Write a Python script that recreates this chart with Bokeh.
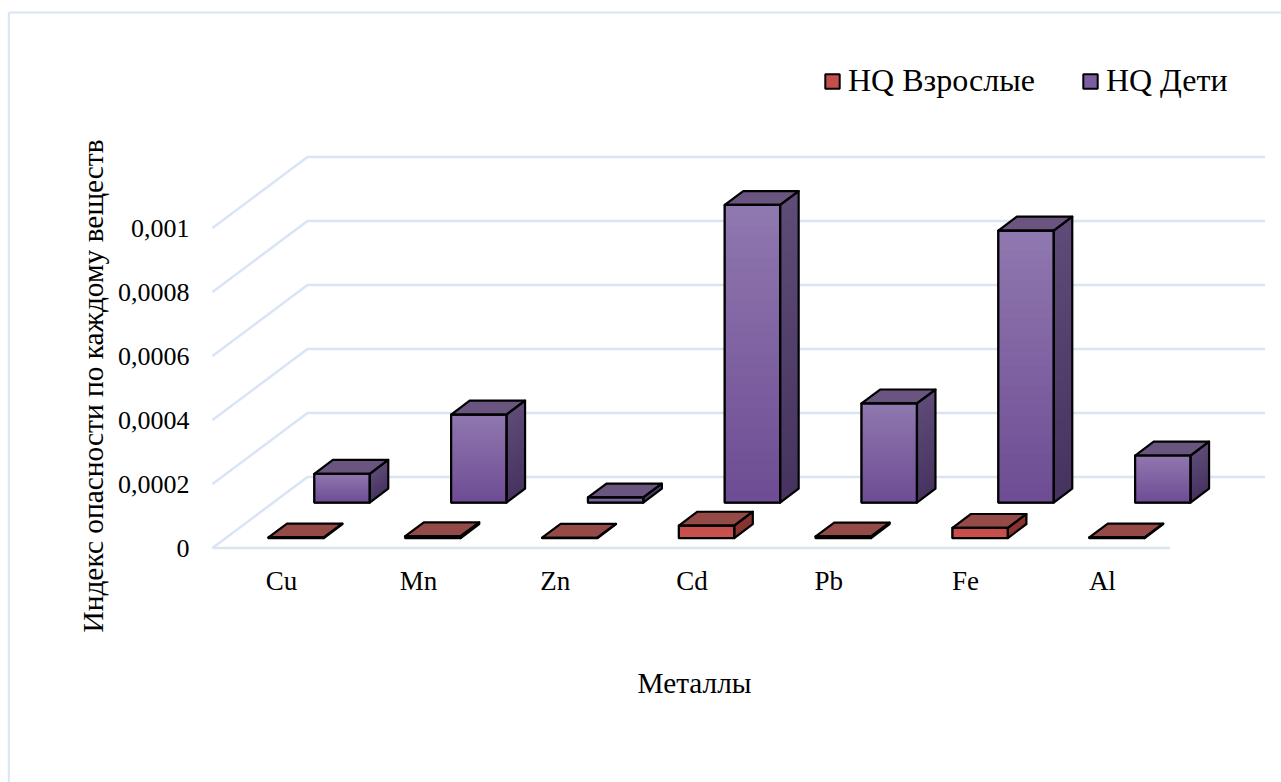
from bokeh.plotting import figure
from bokeh.models import FixedTicker, LinearAxis, Legend, LegendItem
from bokeh.core.properties import value
from bokeh.embed import file_html
from bokeh.resources import INLINE

categories = ["Cu", "Mn", "Zn", "Cd", "Pb", "Fe", "Al"]
hq_adults = [0.000002, 0.000006, 0.000001, 0.000039, 0.000005, 0.000032, 0.000002]
hq_children = [0.00009, 0.000275, 0.000016, 0.00093, 0.00031, 0.00085, 0.000147]
y_ticks = [0, 0.0002, 0.0004, 0.0006, 0.0008, 0.001]
y_tick_labels = ["0", "0,0002", "0,0004", "0,0006", "0,0008", "0,001"]
series_names = ["HQ Взрослые", "HQ Дети"]
y_title = "Индекс опасности по каждому веществ"
x_title = "Металлы"

W, H = 1281, 782
FONT = "Liberation Serif"
X_PX, Y_PX = 136.8, 320000.0          # pixels per category, per unit of value
X0, Y0 = 212.0, 547.5                 # page pixel of category 0, value 0
DX, DY = 95 / X_PX, 71 / Y_PX         # wall depth in data units
GRID = "#D9E4F4"


def hx(px):
    return (px - X0) / X_PX


def vy(py):
    return (Y0 - py) / Y_PX


p = figure(width=W, height=H, output_backend="svg", toolbar_location=None,
           x_range=(hx(0), hx(W)), y_range=(vy(H), vy(0)),
           min_border=0, min_border_left=0, min_border_right=0,
           min_border_top=0, min_border_bottom=0,
           x_axis_type=None, y_axis_type=None, outline_line_color=None,
           background_fill_color="white", border_fill_color="white")
p.grid.visible = False

# chart border (only its top and left edges are inside the picture)
p.multi_line([[hx(8.3), hx(8.3)], [hx(8.3), hx(W)]], [[vy(H), vy(12)], [vy(12), vy(12)]],
             line_color=GRID, line_width=2)

# walls and floor
n = len(categories)
xs_grid, ys_grid = [], []
for v in y_ticks:
    xs_grid.append([0, DX, n + DX])
    ys_grid.append([v, v + DY, v + DY])
xs_grid.append([0, n])
ys_grid.append([0, 0])
p.multi_line(xs_grid, ys_grid, line_color=GRID, line_width=2.5)


def lerp(a, b, t):
    return "#%02x%02x%02x" % tuple(round(a[i] + (b[i] - a[i]) * t) for i in range(3))


def bars(vals, left, d0, d1, width, cols):
    dx0, dx1 = d0 * DX, d1 * DX
    dy0, dy1 = d0 * DY, d1 * DY
    tops, sides, fronts = [[], []], [[], []], [[], []]
    sl = {"x": [], "y": [], "c": []}
    N = 28
    for i, v in enumerate(vals):
        xl = i + left + dx0
        xr = xl + width
        shift = dx1 - dx0
        yb = dy0
        yt = dy0 + v
        rise = dy1 - dy0
        tops[0].append([xl, xr, xr + shift, xl + shift])
        tops[1].append([yt, yt, yt + rise, yt + rise])
        sides[0].append([xr, xr + shift, xr + shift, xr])
        sides[1].append([yb, yb + rise, yt + rise, yt])
        fronts[0].append([xl, xr, xr, xl])
        fronts[1].append([yb, yb, yt, yt])
        for k in range(N):
            t0, t1 = k / N, (k + 1) / N
            ya = yb + v * t0
            # side slice, overlapping the next one so that no seam shows
            sl["x"].append([xr, xr + shift, xr + shift, xr])
            sl["y"].append([ya, ya + rise, yb + v + rise, yb + v])
            sl["c"].append(lerp(cols["side_bottom"], cols["side_top"], (t0 + t1) / 2))
        for k in range(N):
            t0, t1 = k / N, (k + 1) / N
            ya = yb + v * t0
            # front slice, reaching up to the top of the bar
            sl["x"].append([xl, xr, xr, xl])
            sl["y"].append([ya, ya, yt, yt])
            sl["c"].append(lerp(cols["front_bottom"], cols["front_top"], (t0 + t1) / 2))
    base = p.patches(fronts[0], fronts[1], fill_color=cols["legend"], line_color="black", line_width=2)
    p.patches(sl["x"], sl["y"], fill_color=sl["c"], line_color=None)
    p.patches(tops[0], tops[1], fill_color=cols["top"], line_color="black", line_width=2.2, line_join="round")
    p.patches(sides[0], sides[1], fill_color=None, line_color="black", line_width=2.2, line_join="round")
    p.patches(fronts[0], fronts[1], fill_color=None, line_color="black", line_width=2.2, line_join="round")
    return base


purple = dict(front_top=(0x90, 0x78, 0xAF), front_bottom=(0x6E, 0x4C, 0x94),
              side_top=(0x5E, 0x4B, 0x78), side_bottom=(0x47, 0x33, 0x60),
              top="#6A5580", legend="#7B5EA3")
red = dict(front_top=(0xC4, 0x4F, 0x4B), front_bottom=(0xCC, 0x50, 0x4C),
           side_top=(0x8C, 0x38, 0x35), side_bottom=(0x85, 0x33, 0x30),
           top="#944A47", legend="#C44F4B")

r_child = bars(hq_children, 0.30, 0.64, 0.835, 0.405, purple)
r_adult = bars(hq_adults, 0.312, 0.14, 0.335, 0.405, red)

# axes drawn inside the full-page frame
yaxis = LinearAxis(fixed_location=hx(195), ticker=FixedTicker(ticks=y_ticks),
                   major_label_overrides=dict(zip(y_ticks, y_tick_labels)),
                   axis_line_color=None, major_tick_line_color=None, minor_tick_line_color=None,
                   major_tick_in=0, major_tick_out=0, major_label_standoff=6,
                   major_label_text_font=FONT, major_label_text_font_size="26px",
                   major_label_text_color="black")
p.add_layout(yaxis, "left")

x_ticks = [i + 0.505 for i in range(n)]
xaxis = LinearAxis(fixed_location=vy(563), ticker=FixedTicker(ticks=x_ticks),
                   major_label_overrides=dict(zip(x_ticks, categories)),
                   axis_line_color=None, major_tick_line_color=None, minor_tick_line_color=None,
                   major_tick_in=0, major_tick_out=0, major_label_standoff=2,
                   major_label_text_font=FONT, major_label_text_font_size="27px",
                   major_label_text_color="black")
p.add_layout(xaxis, "below")

# axis titles
p.text([hx(694)], [vy(682)], text=[x_title], text_font=value(FONT), text_font_size="29.3px",
       text_align="center", text_baseline="middle", text_color="black")
p.text([hx(92.5)], [vy(385.5)], text=[y_title], angle=90, angle_units="deg", text_font=value(FONT),
       text_font_size="29.4px", text_align="center", text_baseline="middle", text_color="black")

legend = Legend(items=[LegendItem(label=series_names[0], renderers=[r_adult]),
                       LegendItem(label=series_names[1], renderers=[r_child])],
                orientation="horizontal", location=(823, H - 99),
                border_line_color=None, background_fill_color=None, background_fill_alpha=0,
                glyph_width=18, glyph_height=18, label_standoff=7, spacing=46,
                label_text_font=FONT, label_text_font_size="32px", label_text_color="black",
                padding=8, margin=0)
p.add_layout(legend, "center")

open("out.html", "w").write(file_html(p, INLINE))
